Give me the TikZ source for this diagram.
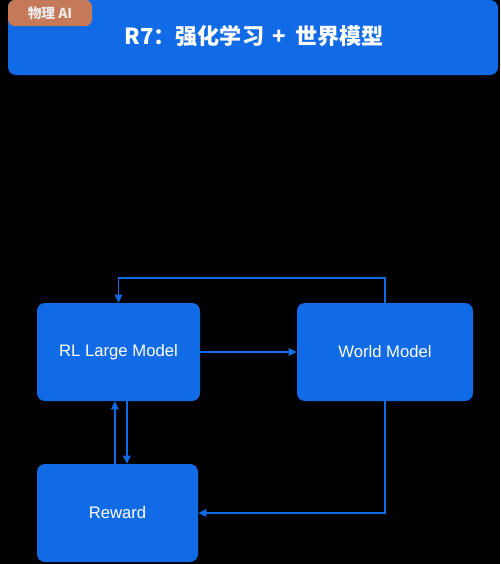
\documentclass[tikz,border=0pt]{standalone}
\usepackage{fontspec}
\setmainfont{Liberation Sans}
\newfontfamily\cjk{Noto Sans CJK SC}
\usetikzlibrary{arrows.meta,positioning}

\definecolor{boxblue}{RGB}{18,107,230}
\definecolor{badgebrown}{RGB}{196,122,88}

\begin{document}
\begin{tikzpicture}[x=0.75pt,y=0.75pt,yscale=-1,xscale=1,
    box/.style={fill=boxblue, rounded corners=6pt, text=white, font=\fontsize{12.5}{15}\selectfont, inner sep=0pt, minimum height=73.5pt},
    link/.style={draw=boxblue, line width=1.25pt, -{Triangle[length=6pt,width=5.5pt]}}]
        %set diagram size
        \fill [black] (0,0) rectangle (500,564);
        \useasboundingbox (0,0) rectangle (500,564);

        %Shape: Header
        \fill [boxblue, rounded corners=6pt] (8,0) rectangle (498,75);
        %Shape: Badge
        \fill [badgebrown, rounded corners=5pt] (8,0) rectangle (92,26);
        % Text Node
        \node (badge) at (50,13) [text=white!92!black, font=\cjk\bfseries\fontsize{10.3}{12}\selectfont] {物理 AI};
        % Text Node
        \node (title) at (254,36) [text=white, font=\cjk\bfseries\fontsize{16.6}{20}\selectfont] {R7：强化学习 \,+\, 世界模型};

        % Boxes
        \node [box, minimum width=122.25pt] (rl) at (118.5,352) {RL Large Model};
        \node [box, minimum width=132pt] (world) at (385,352) {World Model};
        \node [box, minimum width=120.75pt] (reward) at (117.5,513) {Reward};

        %Straight Lines
        \draw [link] (rl.east) -- (world.west);
        %Straight Lines
        \draw [link] (world.north) -- ++(0,-25) -| (rl.north);
        %Straight Lines
        \draw [link] (world.south) |- (reward.east);
        %Straight Lines
        \draw [link] ([xshift=-2pt]reward.north) -- ([xshift=-2pt]reward.north |- rl.south);
        \draw [link] ([xshift=7pt]reward.north |- rl.south) -- ([xshift=7pt]reward.north);

    \end{tikzpicture}
\end{document}
